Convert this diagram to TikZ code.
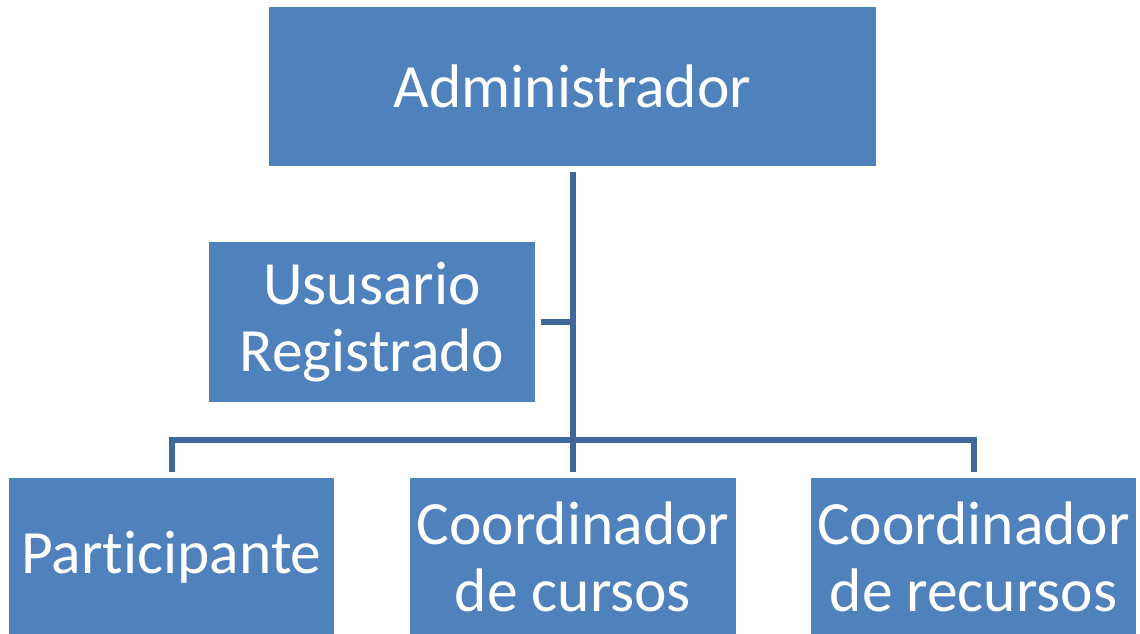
\documentclass[tikz,border=0pt]{standalone}
\usepackage{fontspec}
\setmainfont[Ligatures={NoCommon,NoRequired,NoContextual}]{Carlito}
\definecolor{boxfill}{HTML}{4F81BD}
\definecolor{linecol}{HTML}{41679A}
\begin{document}
\begin{tikzpicture}[x=1pt,y=-1pt,
  orgbox/.style={draw=none,fill=boxfill,text=white,inner sep=0pt,align=center,
    font=\fontsize{61.5}{67}\selectfont},
  conn/.style={draw=linecol,line width=6pt,line join=miter}]
\useasboundingbox[fill=white] (0,0) rectangle (1140,634);
\node[orgbox,minimum width=607pt,minimum height=159pt] (adm) at (572.5,86.5) {Administrador};
\node[orgbox,minimum width=326pt,minimum height=160pt] (usr) at (372,322) {Ususario\\Registrado};
\node[orgbox,minimum width=325pt,minimum height=158pt] (p) at (171.5,557) {Participante};
\node[orgbox,minimum width=326pt,minimum height=158pt] (cc) at (573,557) {Coordinador\\de cursos};
\node[orgbox,minimum width=325pt,minimum height=158pt] (cr) at (973.5,557) {Coordinador\\de recursos};
\coordinate (bus) at (573,440);
\draw[conn] ([yshift=-6pt]adm.south -| cc.north) -- ([yshift=6pt]cc.north);
\draw[conn] ([xshift=6pt]usr.east) -- (usr.east -| cc.north);
\draw[conn] ([yshift=6pt]p.north) |- (bus) -| ([yshift=6pt]cr.north);
\end{tikzpicture}
\end{document}
